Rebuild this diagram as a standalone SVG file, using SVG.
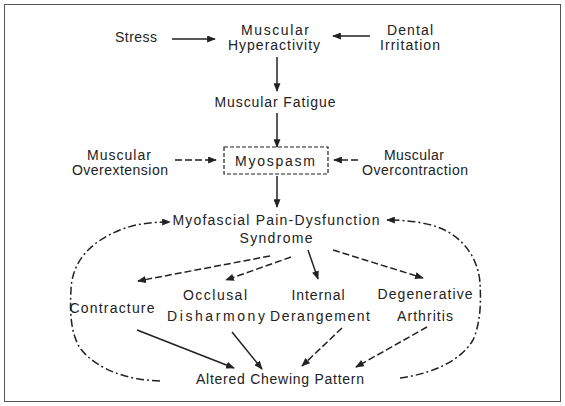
<svg xmlns="http://www.w3.org/2000/svg" width="565" height="406" viewBox="0 0 565 406">
<defs>
<style>
text{font-family:"Liberation Sans",Arial,sans-serif;font-size:14px;fill:#222;text-anchor:middle}
.c{fill:none;stroke:#222;stroke-width:1.5}
.d{stroke-dasharray:7 3}
.l{stroke-dasharray:8 3 2 3}
</style>
<marker id="ah" viewBox="0 0 10 8" refX="9" refY="4" markerWidth="9" markerHeight="7" markerUnits="userSpaceOnUse" orient="auto">
<path d="M0,0 L10,4 L0,8 Z" fill="#222"/>
</marker>
</defs>
<rect x="0" y="0" width="565" height="406" fill="#fff"/>
<rect x="4.5" y="4.5" width="556" height="397" fill="none" stroke="#555" stroke-width="1"/>

<g id="stress"><text x="136" y="42" textLength="42">Stress</text></g>
<g id="hyperactivity"><text x="275" y="35" textLength="68">Muscular</text><text x="274" y="50" textLength="92">Hyperactivity</text></g>
<g id="dental"><text x="410" y="35" textLength="46">Dental</text><text x="410" y="50" textLength="60">Irritation</text></g>
<g id="fatigue"><text x="275" y="107" textLength="121">Muscular Fatigue</text></g>
<g id="myospasm"><rect x="224" y="147" width="104" height="27" fill="none" stroke="#222" stroke-width="1.2" stroke-dasharray="4 2"/><text x="275" y="166" textLength="80">Myospasm</text></g>
<g id="overextension"><text x="119" y="160" textLength="64">Muscular</text><text x="120" y="175" textLength="96">Overextension</text></g>
<g id="overcontraction"><text x="414" y="160" textLength="60">Muscular</text><text x="415" y="175" textLength="106">Overcontraction</text></g>
<g id="mpds"><text x="276" y="225" textLength="207">Myofascial Pain-Dysfunction</text><text x="276" y="243" textLength="73">Syndrome</text></g>
<g id="contracture"><text x="112" y="313" textLength="85">Contracture</text></g>
<g id="occlusal"><text x="215" y="300" textLength="64">Occlusal</text><text x="216" y="321" textLength="98">Disharmony</text></g>
<g id="internal"><text x="318" y="300" textLength="53">Internal</text><text x="320" y="321" textLength="100">Derangement</text></g>
<g id="degenerative"><text x="425" y="299" textLength="95">Degenerative</text><text x="425" y="321" textLength="56">Arthritis</text></g>
<g id="altered"><text x="280" y="384" textLength="168">Altered Chewing Pattern</text></g>

<g id="connectors">
<path class="c" d="M172,39 L215,39" marker-end="url(#ah)"/>
<path class="c" d="M370,36 L333,36" marker-end="url(#ah)"/>
<path class="c" d="M277,57 L277,91" marker-end="url(#ah)"/>
<path class="c" d="M277,113 L277,147" marker-end="url(#ah)"/>
<path class="c d" d="M175,160 L216,160" marker-end="url(#ah)"/>
<path class="c d" d="M358,160 L334,160" marker-end="url(#ah)"/>
<path class="c" d="M277,176 L277,207" marker-end="url(#ah)"/>
<path class="c l" d="M160,381 C125,380 95,368 80,348 C70,332 70,310 71,290 C72,258 95,240 120,230 C135,224 150,222 170,222" marker-end="url(#ah)"/>
<path class="c l" d="M400,378 C430,374 460,362 473,340 C481,322 481,300 480,283 C478,255 460,236 440,228 C425,222 405,220 387,220" marker-end="url(#ah)"/>
<path class="c d" d="M270,256 L138,281" marker-end="url(#ah)"/>
<path class="c d" d="M291,257 L226,280" marker-end="url(#ah)"/>
<path class="c" d="M308,250 L318,279" marker-end="url(#ah)"/>
<path class="c d" d="M333,250 L423,278" marker-end="url(#ah)"/>
<path class="c" d="M137,330 L234,368" marker-end="url(#ah)"/>
<path class="c" d="M232,332 L262,369" marker-end="url(#ah)"/>
<path class="c d" d="M342,328 L302,366" marker-end="url(#ah)"/>
<path class="c d" d="M427,327 L356,367" marker-end="url(#ah)"/>
</g>
</svg>
